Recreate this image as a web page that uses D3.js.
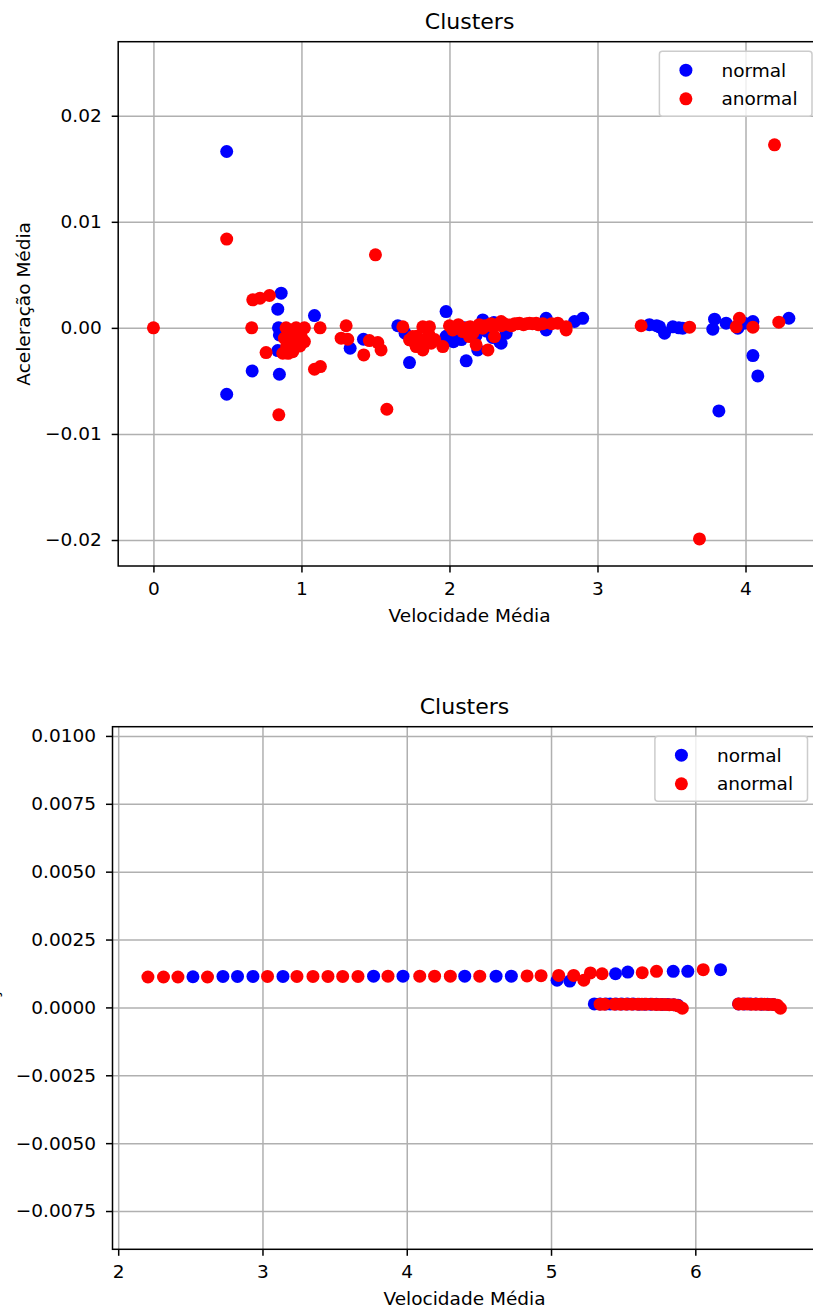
<!DOCTYPE html>
<html>
	<head>
		<title>Clusters</title>
		<script type="text/javascript" src="https://cdn.jsdelivr.net/npm/d3@7/dist/d3.min.js"></script>
	<style>
		body {margin: 0; background: #fff;}
		svg {display: block;}
		text {font-family: "DejaVu Sans", sans-serif; fill: #000;}
	</style>
	</head>
	<body>
		<script>
			// first panel: velocidade x aceleracao (all trips)
			var normalTop = [
				[0.495, 0.01663], [0.495, -0.00626], [0.667, -0.00406], [0.84, 0.00176], [0.863, 0.00327],
				[0.845, 0.0], [0.851, -0.00066], [0.84, -0.00214], [0.851, -0.00437], [1.088, 0.00116],
				[1.329, -0.00192], [1.419, -0.00107], [1.651, 0.0002], [1.7, -0.0005], [1.73, -0.00327],
				[1.977, 0.00154], [1.977, -0.0008], [2.027, -0.0013], [2.068, -0.0008], [2.08, -0.0011],
				[2.1, 0.0], [2.113, -0.00311], [2.18, -0.0007], [2.191, -0.00208], [2.225, 0.00075],
				[2.25, -0.0003], [2.29, -0.0009], [2.3, 0.0005], [2.338, -0.00129], [2.349, -0.00145],
				[2.383, -0.0005], [2.653, 0.00091], [2.653, -0.00019], [2.845, 0.0006], [2.9, 0.0009],
				[3.351, 0.0003], [3.4, 0.0002], [3.419, 0.0001], [3.453, -0.0005], [3.509, 0.0001],
				[3.55, 0.0], [3.576, -0.00003], [3.779, -0.00012], [3.791, 0.00082], [3.82, -0.00783],
				[3.869, 0.00044], [3.948, -0.00003], [3.95, 0.0002], [3.993, 0.00044], [4.05, 0.0006],
				[4.05, -0.00261], [4.083, -0.00453], [4.293, 0.00091]
			];
			var anormalTop = [
				[0.0, 0.0], [0.495, 0.00837], [0.664, 0.0], [0.671, 0.00264], [0.72, 0.0028],
				[0.784, 0.00305], [0.761, -0.00233], [0.847, -0.0082], [0.874, -0.00239], [0.885, -0.00097],
				[0.896, 0.0], [0.9, -0.0017], [0.91, -0.0024], [0.92, -0.0005], [0.93, -0.0012],
				[0.941, -0.00224], [0.95, -0.0019], [0.964, 0.0], [0.964, -0.00113], [0.98, -0.0006],
				[0.99, -0.0017], [1.0, -0.0009], [1.02, 0.0], [1.02, -0.00129], [1.088, -0.0039],
				[1.128, -0.00365], [1.126, 0.0], [1.268, -0.00097], [1.302, 0.0002], [1.313, -0.00107],
				[1.421, -0.00255], [1.459, -0.0012], [1.5, 0.00689], [1.516, -0.00139], [1.538, -0.00208],
				[1.577, -0.00767], [1.685, 0.0001], [1.73, -0.00113], [1.75, -0.0012], [1.752, -0.00082],
				[1.775, -0.00176], [1.78, -0.0008], [1.797, -0.00145], [1.82, 0.0001], [1.82, -0.00208],
				[1.842, -0.00113], [1.86, -0.0006], [1.865, 0.0001], [1.876, -0.00145], [1.9, -0.0011],
				[1.955, -0.00176], [2.0, 0.0002], [2.022, -0.0002], [2.05, 0.0001], [2.06, 0.0003],
				[2.09, -0.00035], [2.12, 0.0], [2.135, -0.00082], [2.14, 0.0001], [2.157, -0.0005],
				[2.17, -0.0002], [2.18, -0.0016], [2.2, 0.0003], [2.225, -0.00003], [2.24, 0.0002],
				[2.26, -0.00208], [2.28, 0.0004], [2.293, 0.00012], [2.304, -0.00082], [2.32, 0.0003],
				[2.349, 0.0006], [2.35, 0.0002], [2.37, 0.0004], [2.405, 0.00028], [2.42, 0.0002],
				[2.44, 0.0004], [2.46, 0.0004], [2.473, 0.00044], [2.5, 0.0003], [2.52, 0.0004],
				[2.541, 0.00044], [2.56, 0.0004], [2.586, 0.00044], [2.6, 0.0003], [2.63, 0.0004],
				[2.69, 0.0004], [2.732, 0.00044], [2.788, 0.0001], [2.788, -0.00019], [3.295, 0.0002],
				[3.622, 0.00007], [3.689, -0.0199], [3.937, 0.0001], [3.959, 0.00091], [4.05, 0.00007],
				[4.196, 0.01726], [4.225, 0.00054]
			];
			var xTicksTop = [0, 1, 2, 3, 4];
			var yTicksTop = [-0.02, -0.01, 0.0, 0.01, 0.02];
			var yTickLabelsTop = ["\u22120.02", "\u22120.01", "0.00", "0.01", "0.02"];

			// second panel
			var normalBottom = [
				[2.518, 0.00113], [2.726, 0.00114], [2.827, 0.00114], [2.934, 0.00114], [3.142, 0.00114],
				[3.77, 0.00115], [3.974, 0.00115], [4.402, 0.00115], [4.619, 0.00115], [4.725, 0.00115],
				[5.042, 0.001], [5.13, 0.00097], [5.447, 0.00124], [5.532, 0.0013], [5.847, 0.00133],
				[5.948, 0.00133], [6.175, 0.00139],
				[5.3, 0.00013], [5.34, 0.00013], [5.38, 0.00013], [5.41, 0.00013], [5.45, 0.00013],
				[5.49, 0.00013], [5.53, 0.00013], [5.57, 0.00013], [5.61, 0.00012], [5.65, 0.00012],
				[5.69, 0.00012], [5.73, 0.00012], [5.77, 0.00011], [5.81, 0.00011], [5.85, 0.0001],
				[5.88, 0.00008],
				[6.3, 0.00013], [6.34, 0.00013], [6.38, 0.00013], [6.42, 0.00013], [6.46, 0.00012],
				[6.5, 0.00012], [6.54, 0.00011]
			];
			var anormalBottom = [
				[2.206, 0.00112], [2.314, 0.00112], [2.414, 0.00112], [2.619, 0.00112], [3.035, 0.00114],
				[3.239, 0.00114], [3.35, 0.00114], [3.454, 0.00114], [3.556, 0.00114], [3.662, 0.00114],
				[3.87, 0.00115], [4.09, 0.00115], [4.193, 0.00115], [4.302, 0.00115], [4.506, 0.00115],
				[4.834, 0.00116], [4.931, 0.00117], [5.053, 0.00118], [5.157, 0.00118], [5.227, 0.001],
				[5.273, 0.00127], [5.354, 0.00124], [5.632, 0.00128], [5.731, 0.00133], [6.055, 0.00139],
				[5.34, 0.00012], [5.37, 0.00012], [5.44, 0.00012], [5.48, 0.00012], [5.52, 0.00012],
				[5.56, 0.00012], [5.6, 0.00012], [5.63, 0.00012], [5.66, 0.00012], [5.7, 0.00012],
				[5.73, 0.00011], [5.76, 0.00011], [5.79, 0.00011], [5.82, 0.0001], [5.85, 0.0001],
				[5.88, 0.00006], [5.91, -0.00003],
				[6.3, 0.00013], [6.33, 0.00013], [6.36, 0.00013], [6.39, 0.00012], [6.42, 0.00012],
				[6.45, 0.00012], [6.48, 0.00012], [6.51, 0.00011], [6.54, 0.00011], [6.57, 0.00008],
				[6.59, -0.00003]
			];
			var xTicksBottom = [2, 3, 4, 5, 6];
			var yTicksBottom = [-0.0075, -0.005, -0.0025, 0.0, 0.0025, 0.005, 0.0075, 0.01];
			var yTickLabelsBottom = ["\u22120.0075", "\u22120.0050", "\u22120.0025", "0.0000", "0.0025", "0.0050", "0.0075", "0.0100"];

			var seriesNames = ["normal", "anormal"];
			var seriesColors = ["#0000ff", "#ff0000"];

			var svg = d3.select("body")
			.append("svg")
			.attr("width", 813)
			.attr("height", 1308);

			function drawPanel(cfg) {
				var x = d3.scaleLinear().domain(cfg.xDomain).range([cfg.left, cfg.right]);
				var y = d3.scaleLinear().domain(cfg.yDomain).range([cfg.bottom, cfg.top]);
				var g = svg.append("g");

				// grid
				g.append("g")
				.attr("transform", "translate(0," + cfg.bottom + ")")
				.call(d3.axisBottom(x).tickValues(cfg.xTicks).tickSize(-(cfg.bottom - cfg.top)).tickFormat(""))
				.call(function (s) { s.select(".domain").remove(); s.selectAll("line").attr("stroke", "#b0b0b0").attr("stroke-width", 1.5); });
				g.append("g")
				.attr("transform", "translate(" + cfg.left + ",0)")
				.call(d3.axisLeft(y).tickValues(cfg.yTicks).tickSize(-(cfg.right - cfg.left)).tickFormat(""))
				.call(function (s) { s.select(".domain").remove(); s.selectAll("line").attr("stroke", "#b0b0b0").attr("stroke-width", 1.5); });

				// points, normal first then anormal on top
				[cfg.normal, cfg.anormal].forEach(function (data, i) {
					g.append("g").selectAll("circle")
					.data(data)
					.enter()
					.append("circle")
					.attr("cx", function (d) { return x(d[0]); })
					.attr("cy", function (d) { return y(d[1]); })
					.attr("r", 6.5)
					.style("fill", seriesColors[i]);
				});

				// frame
				g.append("rect")
				.attr("x", cfg.left).attr("y", cfg.top)
				.attr("width", cfg.right - cfg.left).attr("height", cfg.bottom - cfg.top)
				.attr("fill", "none").attr("stroke", "#000").attr("stroke-width", 1.5);

				// axes
				var xAxis = g.append("g")
				.attr("transform", "translate(0," + cfg.bottom + ")")
				.call(d3.axisBottom(x).tickValues(cfg.xTicks).tickSize(6.5).tickPadding(9).tickFormat(d3.format("d")));
				var yAxis = g.append("g")
				.attr("transform", "translate(" + cfg.left + ",0)")
				.call(d3.axisLeft(y).tickValues(cfg.yTicks).tickSize(6.5).tickPadding(10)
					.tickFormat(function (d, i) { return cfg.yTickLabels[i]; }));
				[xAxis, yAxis].forEach(function (a) {
					a.select(".domain").remove();
					a.selectAll("line").attr("stroke", "#000").attr("stroke-width", 1.5);
					a.selectAll("text").attr("font-size", "18.5px").attr("font-family", "DejaVu Sans").attr("fill", "#000");
				});
				xAxis.selectAll("text").attr("dy", null).attr("y", 29).style("dominant-baseline", "auto");

				// title and labels
				g.append("text")
				.attr("x", (cfg.left + cfg.right) / 2)
				.attr("y", cfg.top - 13)
				.attr("text-anchor", "middle")
				.attr("font-size", "22px")
				.text("Clusters");
				g.append("text")
				.attr("x", (cfg.left + cfg.right) / 2)
				.attr("y", cfg.bottom + 55.7)
				.attr("text-anchor", "middle")
				.attr("font-size", "18.5px")
				.text("Velocidade M\u00e9dia");
				g.append("text")
				.attr("transform", "translate(" + cfg.yLabelX + "," + (cfg.top + cfg.bottom) / 2 + ") rotate(-90)")
				.attr("text-anchor", "middle")
				.attr("font-size", "18.5px")
				.text("Acelera\u00e7\u00e3o M\u00e9dia");

				// legend
				var lw = 152.6, lh = 65;
				var lx = cfg.right - 9 - lw, ly = cfg.top + 9.5;
				var legend = g.append("g").attr("transform", "translate(" + lx + "," + ly + ")");
				legend.append("rect")
				.attr("width", lw).attr("height", lh).attr("rx", 3)
				.attr("fill", "#fff").attr("fill-opacity", 0.8)
				.attr("stroke", "#cccccc").attr("stroke-width", 1.5);
				var rows = legend.selectAll("g.row")
				.data(seriesNames)
				.enter()
				.append("g")
				.attr("class", "row")
				.attr("transform", function (d, i) { return "translate(0," + (19 + i * 28.6) + ")"; });
				rows.append("circle")
				.attr("cx", 26.5).attr("r", 6.5)
				.style("fill", function (d, i) { return seriesColors[i]; });
				rows.append("text")
				.attr("x", 62).attr("dy", "0.35em")
				.attr("font-size", "18.5px")
				.text(function (d) { return d; });
			}

			drawPanel({
				left: 118.2, right: 821, top: 41.7, bottom: 566,
				xDomain: [-0.238, 4.51], yDomain: [-0.02245, 0.02698],
				xTicks: xTicksTop, yTicks: yTicksTop, yTickLabels: yTickLabelsTop,
				normal: normalTop, anormal: anormalTop, yLabelX: 30
			});
			drawPanel({
				left: 112.5, right: 816.5, top: 726.7, bottom: 1249.3,
				xDomain: [1.9605, 6.84], yDomain: [-0.00891, 0.01034],
				xTicks: xTicksBottom, yTicks: yTicksBottom, yTickLabels: yTickLabelsBottom,
				normal: normalBottom, anormal: anormalBottom, yLabelX: -2.2
			});
		</script>
	</body>
</html>
